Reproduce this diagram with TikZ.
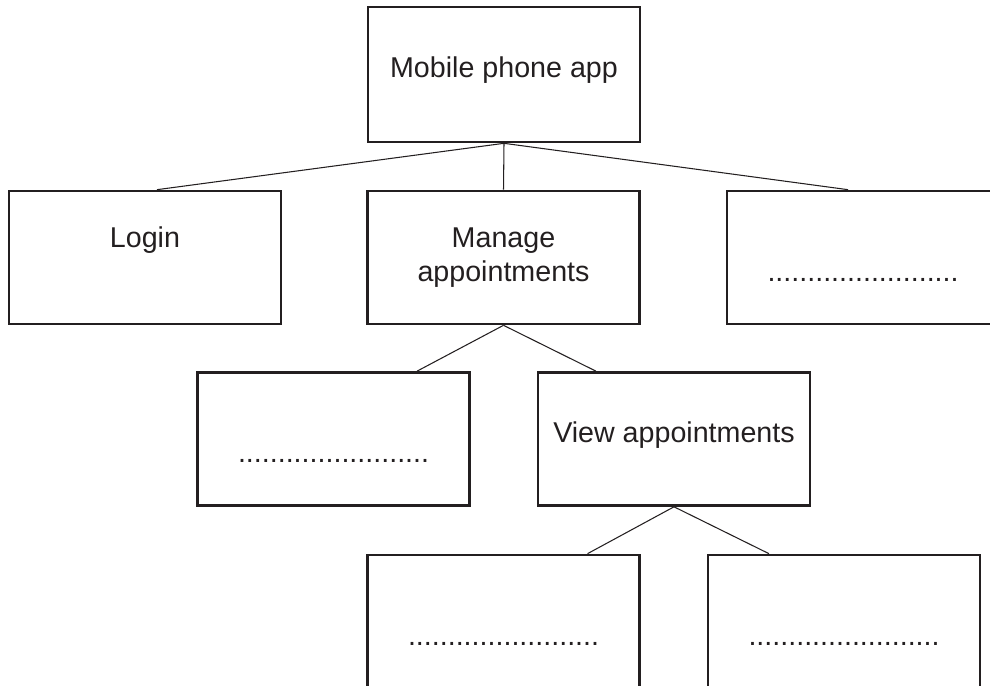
\documentclass[tikz,border=0pt]{standalone}
\usepackage{fontspec}
\setmainfont{Liberation Sans}
\definecolor{ink}{RGB}{35,31,32}
\newcommand{\dotline}{........................}

\begin{document}
\begin{tikzpicture}[
		box/.style={draw=ink, line width=1.5pt, minimum width=5.44cm, minimum height=2.66cm,
			inner sep=0pt, align=center, text=ink, font=\fontsize{16.3}{19.5}\selectfont},
		oneline/.style={text height=0.5cm, text depth=0.38cm},
		link/.style={draw=ink, line width=0.6pt}]
	\useasboundingbox (0,0) rectangle (19.8,-13.72);
	\clip (0,0) rectangle (19.8,-13.72);
	% top
	\node [box, oneline, minimum height=2.70cm] (app) at (10.08,-1.49) {Mobile phone app};
	% second row
	\node [box] (login) at (2.90,-5.15) {\strut Login\\\strut};
	\node [box] (manage) at (10.07,-5.15) {\strut Manage\\\strut appointments};
	\node [box] (other) at (17.26,-5.15) {\strut\\\strut\dotline};
	% third row
	\node [box] (blankl) at (6.67,-8.78) {\strut\\\strut\dotline};
	\node [box, oneline] (view) at (13.48,-8.78) {View appointments};
	% fourth row (cut off at the bottom)
	\node [box] (blankm) at (10.07,-12.43) {\strut\\\strut\dotline};
	\node [box] (blankr) at (16.88,-12.43) {\strut\\\strut\dotline};
	
	\draw [link] (app.south) -- ([xshift=0.24cm]login.north);
	\draw [link] (app.south) -- (manage.north);
	\draw [link] (app.south) -- ([xshift=-0.30cm]other.north);
	\draw [link] (manage.south) -- ([xshift=1.67cm]blankl.north);
	\draw [link] (manage.south) -- ([xshift=-1.56cm]view.north);
	\draw [link] (view.south) -- ([xshift=1.68cm]blankm.north);
	\draw [link] (view.south) -- ([xshift=-1.50cm]blankr.north);
\end{tikzpicture}
\end{document}
